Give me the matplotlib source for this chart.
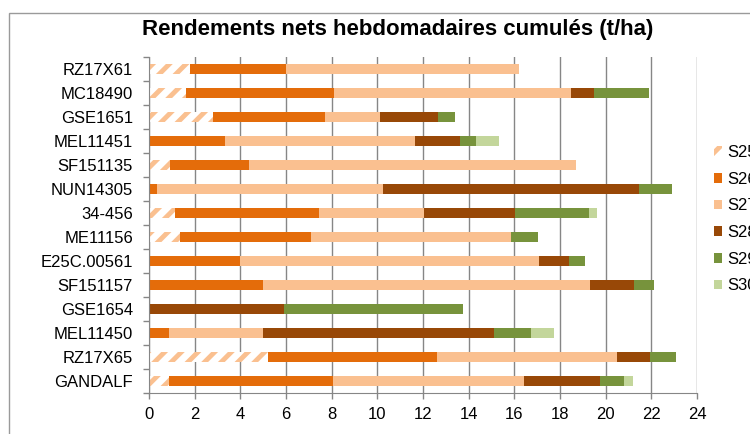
import numpy as np
import matplotlib.pyplot as plt
from matplotlib.patches import Rectangle

plt.rcParams['font.family'] = ['Liberation Sans', 'DejaVu Sans']
plt.rcParams['hatch.linewidth'] = 3.5

# varietes, de haut en bas
varietes = ['RZ17X61', 'MC18490', 'GSE1651', 'MEL11451', 'SF151135', 'NUN14305',
            '34-456', 'ME11156', 'E25C.00561', 'SF151157', 'GSE1654', 'MEL11450',
            'RZ17X65', 'GANDALF']

# rendements hebdomadaires (t/ha) par semaine
s25 = [1.8, 1.6, 2.8, 0.0, 0.9, 0.0, 1.13, 1.35, 0.0, 0.0, 0.0, 0.0, 5.2, 0.88]
s26 = [4.2, 6.5, 4.9, 3.35, 3.5, 0.37, 6.3, 5.75, 3.97, 5.0, 0.0, 0.86, 7.4, 7.19]
s27 = [10.2, 10.4, 2.4, 8.3, 14.3, 9.88, 4.6, 8.77, 13.13, 14.33, 0.0, 4.12, 7.9, 8.36]
s28 = [0.0, 1.0, 2.55, 1.95, 0.0, 11.2, 4.02, 0.0, 1.3, 1.92, 5.9, 10.12, 1.45, 3.32]
s29 = [0.0, 2.4, 0.75, 0.7, 0.0, 1.45, 3.2, 1.18, 0.68, 0.85, 7.85, 1.62, 1.15, 1.05]
s30 = [0.0, 0.0, 0.0, 1.05, 0.0, 0.0, 0.35, 0.0, 0.0, 0.0, 0.0, 1.01, 0.0, 0.4]

semaines = ['S25', 'S26', 'S27', 'S28', 'S29', 'S30']
couleurs = ['#FAC090', '#E46C0A', '#FAC090', '#984807', '#77933C', '#C3D69B']

fig = plt.figure(figsize=(7.5, 4.34), dpi=100)
ax = fig.add_axes([149 / 750, 1 - 393 / 434, 548 / 750, 336 / 434])

y = np.arange(len(varietes))
gauche = np.zeros(len(varietes))
handles = []
for i, serie in enumerate([s25, s26, s27, s28, s29, s30]):
    valeurs = np.array(serie)
    if i == 0:
        b = ax.barh(y, valeurs, left=gauche, height=0.42, color='white',
                    edgecolor=couleurs[i], hatch='//', linewidth=0)
    else:
        b = ax.barh(y, valeurs, left=gauche, height=0.42, color=couleurs[i],
                    linewidth=0)
    handles.append(b)
    gauche = gauche + valeurs

ax.set_xlim(0, 24)
ax.set_ylim(len(varietes) - 0.5, -0.5)
ax.set_xticks(range(0, 25, 2))
ax.set_yticks(y)
ax.set_yticklabels(varietes)
ax.set_yticks(np.arange(-0.5, len(varietes), 1), minor=True)
ax.tick_params(axis='y', which='major', length=0, pad=11.5, labelsize=12)
ax.tick_params(axis='y', which='minor', length=4, color='#868686', width=1)
ax.tick_params(axis='x', length=4, color='#868686', width=1, pad=6, labelsize=12)

ax.grid(axis='x', color='#868686', linewidth=1)
ax.set_axisbelow(True)
for s in ['top', 'right']:
    ax.spines[s].set_visible(False)
for s in ['left', 'bottom']:
    ax.spines[s].set_color('#868686')

fig.text(398 / 750, 1 - 29 / 434, 'Rendements nets hebdomadaires cumulés (t/ha)',
         ha='center', va='center', fontsize=16, fontweight='bold')

fig.legend(handles, semaines, loc='upper left', bbox_to_anchor=(714 / 750, 1 - 145 / 434),
           frameon=False, fontsize=12, handlelength=0.5, handleheight=0.5,
           handletextpad=0.3, labelspacing=0.7, borderpad=0, borderaxespad=0)

# cadre du graphique
fig.patches.append(Rectangle((9 / 750, -0.1), 1.0, 1 - 13 / 434 + 0.1,
                             transform=fig.transFigure, fill=False,
                             edgecolor='#9a9a9a', linewidth=1))

plt.savefig('out.png', dpi=100)
